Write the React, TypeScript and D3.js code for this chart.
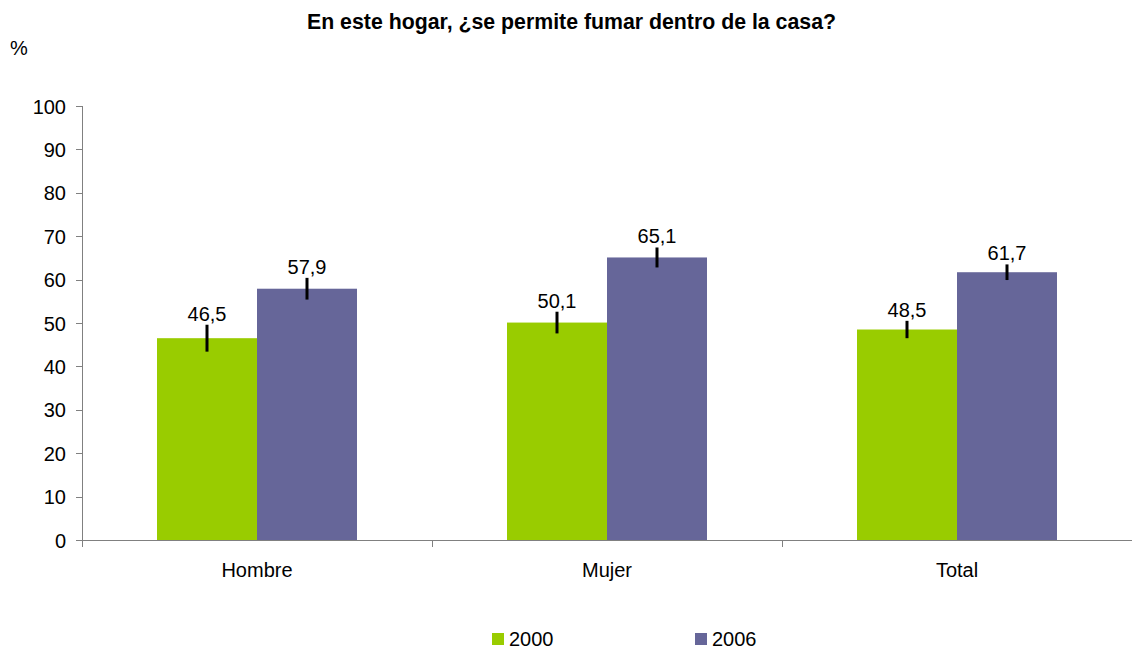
import * as d3 from "d3";

const categories = ["Hombre", "Mujer", "Total"];
const years = ["2000", "2006"];
const values2000 = [46.5, 50.1, 48.5];
const values2006 = [57.9, 65.1, 61.7];
const err2000 = [3.1, 2.5, 2.0];
const err2006 = [2.5, 2.3, 1.8];
const yTicks = [0, 10, 20, 30, 40, 50, 60, 70, 80, 90, 100];
const colors = ["#99CC00", "#666699"];

const W = 1132;
const H = 652;
const font = "Arial, 'Liberation Sans', sans-serif";

export default function App() {
  const x0 = d3.scaleBand().domain(categories).range([82, 1132]).paddingInner(0).paddingOuter(0);
  const x1 = d3.scaleBand().domain(years).range([0, 200]);
  const y = d3.scaleLinear().domain([0, 100]).range([540, 106]);
  const inset = (x0.bandwidth() - 200) / 2;
  const series = [values2000, values2006];
  const errs = [err2000, err2006];
  const fmt = (v: number) => v.toFixed(1).replace(".", ",");

  return (
    <svg width={W} height={H} style={{ position: "absolute", left: 0, top: 0, background: "#fff" }} fontFamily={font}>
      <text x={571.5} y={28.5} textAnchor="middle" fontSize={21.3} fontWeight="bold">
        En este hogar, ¿se permite fumar dentro de la casa?
      </text>
      <text x={10} y={55} fontSize={20}>%</text>

      {/* bars */}
      {categories.map((c, i) => (
        <g key={c} transform={`translate(${x0(c)! + inset},0)`}>
          {years.map((yr, s) => {
            const v = series[s][i];
            const e = errs[s][i];
            const cx = x1(yr)! + x1.bandwidth() / 2;
            return (
              <g key={yr}>
                <rect x={x1(yr)} y={y(v)} width={x1.bandwidth()} height={y(0) - y(v)} fill={colors[s]} />
                <line x1={cx} x2={cx} y1={y(v + e)} y2={y(v - e)} stroke="#000" strokeWidth={3} />
                <text x={cx} y={y(v + e) - 4} textAnchor="middle" fontSize={20}>
                  {fmt(v)}
                </text>
              </g>
            );
          })}
        </g>
      ))}

      {/* y axis */}
      <line x1={82.5} x2={82.5} y1={y(100)} y2={y(0)} stroke="#808080" />
      {yTicks.map((t) => (
        <g key={t}>
          <line x1={76} x2={82.5} y1={Math.round(y(t)) + 0.5} y2={Math.round(y(t)) + 0.5} stroke="#808080" />
          <text x={66} y={y(t) + 7.5} textAnchor="end" fontSize={20}>
            {t}
          </text>
        </g>
      ))}

      {/* x axis */}
      <line x1={82} x2={1132} y1={540.5} y2={540.5} stroke="#808080" />
      {categories.map((c) => (
        <g key={c}>
          <line x1={x0(c)! + 0.5} x2={x0(c)! + 0.5} y1={540.5} y2={547} stroke="#808080" />
          <text x={x0(c)! + x0.bandwidth() / 2} y={577} textAnchor="middle" fontSize={20}>
            {c}
          </text>
        </g>
      ))}

      {/* legend */}
      {years.map((yr, s) => (
        <g key={yr} transform={`translate(${492 + s * 203},633)`}>
          <rect x={0} y={0} width={12} height={12} fill={colors[s]} />
          <text x={17} y={13} fontSize={20}>
            {yr}
          </text>
        </g>
      ))}
    </svg>
  );
}
